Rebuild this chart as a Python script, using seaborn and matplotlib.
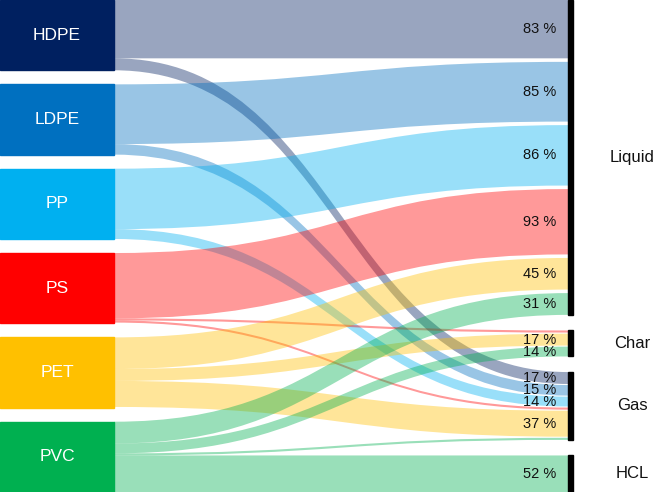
import numpy as np
import matplotlib
matplotlib.use("Agg")
import matplotlib.pyplot as plt
from matplotlib.path import Path
from matplotlib.patches import PathPatch, Rectangle
import seaborn as sns

# plastics (left) and products (right), yields in %
sources = ["HDPE", "LDPE", "PP", "PS", "PET", "PVC"]
targets = ["Liquid", "Char", "Gas", "HCL"]
liquid = [83, 85, 86, 93, 45, 31]
char = [0, 0, 0, 3, 17, 14]
gas = [17, 15, 14, 3, 37, 3]
hcl = [0, 0, 0, 0, 0, 52]
source_colors = ["#002060", "#0070C0", "#00B0F0", "#FF0000", "#FFC000", "#00B050"]

sns.set_theme(style="white")
plt.rcParams['font.family'] = ['Liberation Sans', 'DejaVu Sans']

yields = np.array([liquid, char, gas, hcl])  # target x source

SRC_H = 100      # height of one source box (100 %)
SRC_GAP = 20
TOTAL = len(sources) * SRC_H + (len(sources) - 1) * SRC_GAP
X_BOX = 114      # right edge of source boxes
X_END = 568      # where flows reach the target bar
W = 653

# gaps between flows inside a target node
in_gap = {"Liquid": 5, "Char": 1.5, "Gas": 1.5, "HCL": 0}
node_h = []
for t, tname in enumerate(targets):
    vals = yields[t][yields[t] > 0]
    node_h.append(vals.sum() + in_gap[tname] * (len(vals) - 1))
node_gap = (TOTAL - sum(node_h)) / (len(targets) - 1)

fig = plt.figure(figsize=(6.53, 4.92), dpi=100)
ax = fig.add_axes([0, 0, 1, 1])
ax.set_xlim(0, W)
ax.set_ylim(TOTAL, 0)
ax.axis("off")


def band(x0, y0, x1, y1, h, color):
    xm = (x0 + x1) / 2
    verts = [(x0, y0), (xm, y0), (xm, y1), (x1, y1),
             (x1, y1 + h), (xm, y1 + h), (xm, y0 + h), (x0, y0 + h), (x0, y0)]
    codes = [Path.MOVETO, Path.CURVE4, Path.CURVE4, Path.CURVE4,
             Path.LINETO, Path.CURVE4, Path.CURVE4, Path.CURVE4, Path.CLOSEPOLY]
    ax.add_patch(PathPatch(Path(verts, codes), facecolor=color, edgecolor="none",
                           alpha=0.4, zorder=1))


# target positions for every flow
tgt_pos = {}
labels = []
ty = 0
for t, tname in enumerate(targets):
    start = ty
    for s in range(len(sources)):
        v = yields[t][s]
        if v <= 0:
            continue
        tgt_pos[(s, t)] = ty
        if v >= 10:
            labels.append((ty + v / 2, f"{v} %"))
        ty += v + in_gap[tname]
    ty -= in_gap[tname]
    ax.add_patch(Rectangle((X_END, start), 5, ty - start, color="black", zorder=3))
    ax.text(632, (start + ty) / 2, tname, ha="center", va="center", fontsize=12, color="#111111")
    ty += node_gap

# source boxes and flows
for s, name in enumerate(sources):
    sy = s * (SRC_H + SRC_GAP)
    ax.add_patch(Rectangle((0, sy), X_BOX, SRC_H, color=source_colors[s], zorder=2))
    ax.text(X_BOX / 2, sy + SRC_H / 2, name, ha="center", va="center",
            fontsize=12.5, color="white", zorder=4)
    y = sy
    for t in range(len(targets)):
        v = yields[t][s]
        if v <= 0:
            continue
        band(X_BOX, y, X_END, tgt_pos[(s, t)], v, source_colors[s])
        y += v

for yc, txt in labels:
    ax.text(540, yc, txt, ha="center", va="center", fontsize=10.5, color="#111111", zorder=5)

fig.savefig("out.png", dpi=100)
